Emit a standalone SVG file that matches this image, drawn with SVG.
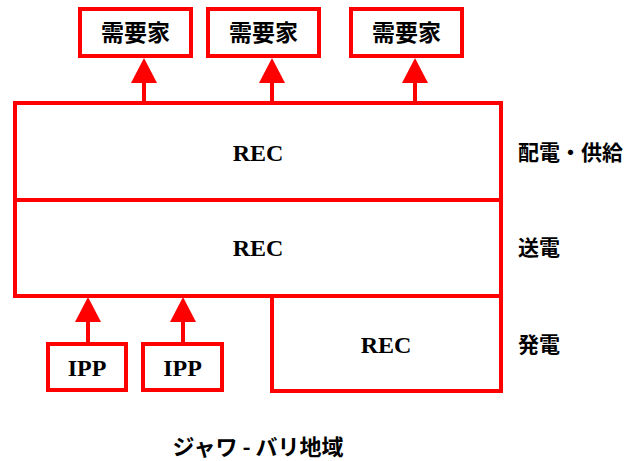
<svg xmlns="http://www.w3.org/2000/svg" width="640" height="461" viewBox="0 0 640 461">
<style>
.box{fill:#fff;stroke:#ff0000;stroke-width:4}
.ln{stroke:#ff0000;stroke-width:4;fill:none}
.jp{font-family:"Noto Sans CJK JP","Noto Sans CJK SC",sans-serif;font-weight:bold;font-size:21px;fill:#000}
.nd{font-size:23px;text-anchor:middle}
.rec{font-family:"Liberation Serif",serif;font-weight:bold;font-size:24px;fill:#000;text-anchor:middle}
</style>
<rect width="640" height="461" fill="#fff"/>
<g id="connectors">
<line class="ln" x1="144" y1="102" x2="144" y2="82" />
<polygon points="131,83 144,58 157,83" fill="#ff0000"/>
<line class="ln" x1="272" y1="102" x2="272" y2="82" />
<polygon points="259,83 272,58 285,83" fill="#ff0000"/>
<line class="ln" x1="415" y1="102" x2="415" y2="82" />
<polygon points="402,83 415,58 428,83" fill="#ff0000"/>
<line class="ln" x1="88" y1="343" x2="88" y2="321" />
<polygon points="75,322 88,297 101,322" fill="#ff0000"/>
<line class="ln" x1="183" y1="343" x2="183" y2="321" />
<polygon points="170,322 183,297 196,322" fill="#ff0000"/>
</g>
<g id="consumer1"><rect class="box" x="80" y="9" width="111" height="47"/><text class="jp nd" x="135.5" y="41">需要家</text></g>
<g id="consumer2"><rect class="box" x="208" y="9" width="111" height="47"/><text class="jp nd" x="263.5" y="41">需要家</text></g>
<g id="consumer3"><rect class="box" x="351" y="9" width="111" height="47"/><text class="jp nd" x="406.5" y="41">需要家</text></g>
<g id="distribution"><rect class="box" x="15" y="103" width="486" height="97"/><text class="rec" x="258" y="161">REC</text></g>
<g id="transmission"><rect class="box" x="15" y="200" width="486" height="96"/><text class="rec" x="258" y="256">REC</text></g>
<g id="generation"><rect class="box" x="272" y="296" width="229" height="95"/><text class="rec" x="386" y="353">REC</text></g>
<g id="ipp1"><rect class="box" x="48" y="344" width="78" height="46"/><text class="rec" x="87" y="376">IPP</text></g>
<g id="ipp2"><rect class="box" x="143" y="344" width="79" height="46"/><text class="rec" x="182.5" y="376">IPP</text></g>
<g id="labels">
<text class="jp" x="518" y="160">配電・供給</text>
<text class="jp" x="518" y="255">送電</text>
<text class="jp" x="518" y="352">発電</text>
<text class="jp" x="258" y="455" text-anchor="middle" style="font-size:22px">ジャワ - バリ地域</text>
</g>
</svg>
